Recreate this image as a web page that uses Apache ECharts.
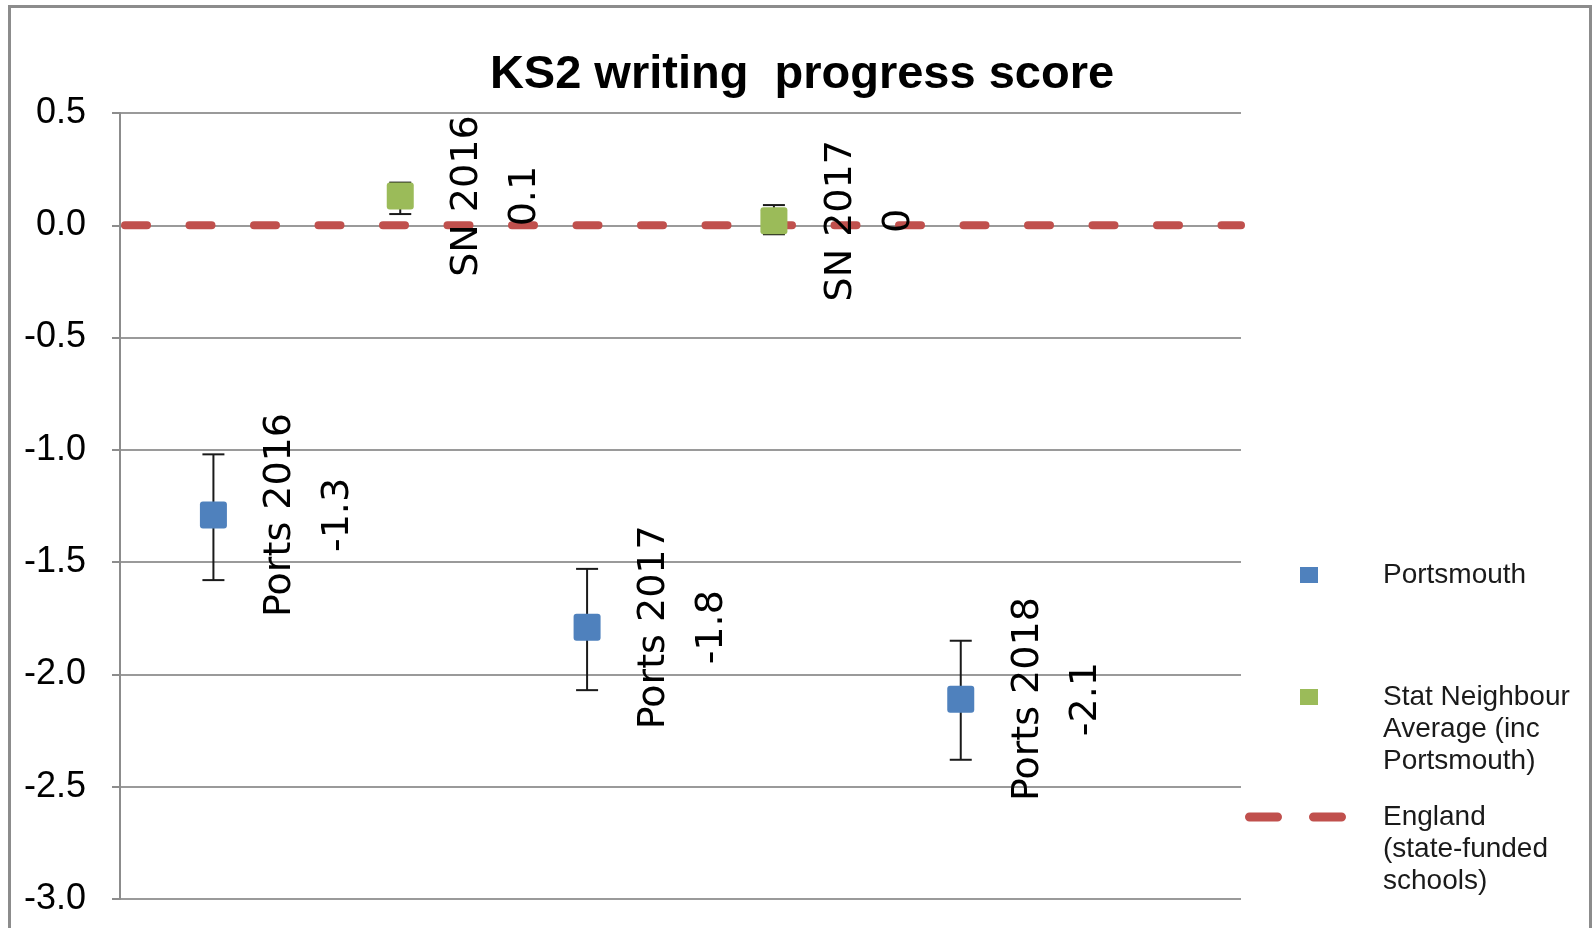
<!DOCTYPE html>
<html>
<head>
<meta charset="utf-8">
<script src="https://cdn.jsdelivr.net/npm/echarts@6/dist/echarts.min.js"></script>
<style>
  html, body { margin: 0; padding: 0; background: #ffffff; }
  #chart { width: 1593px; height: 928px; }
</style>
</head>
<body>
<div id="chart"></div>
<script>
// ---- Data ----
const chartTitle = 'KS2 writing  progress score';
const seriesNames = ['Portsmouth', 'Stat Neighbour Average (inc Portsmouth)', 'England (state-funded schools)'];
const legendTexts = ['Portsmouth', 'Stat Neighbour\nAverage (inc\nPortsmouth)', 'England\n(state-funded\nschools)'];

// Portsmouth points (x = position slot along the horizontal axis)
const portsLabels = ['Ports 2016', 'Ports 2017', 'Ports 2018'];
const portsSlots = [1, 3, 5];
const portsValues = [-1.29, -1.79, -2.11];
const portsLow = [-1.58, -2.07, -2.38];
const portsHigh = [-1.02, -1.53, -1.85];

// Stat neighbour points
const snLabels = ['SN 2016', 'SN 2017'];
const snSlots = [2, 4];
const snValues = [0.13, 0.02];
const snLow = [0.05, -0.04];
const snHigh = [0.19, 0.09];

// England reference line
const englandValue = 0;

// Axes
const xMin = 0.5, xMax = 6.5;
const yMin = -3.0, yMax = 0.5, yInterval = 0.5;

// ---- Build options ----
const colors = { ports: '#4F81BD', sn: '#9BBB59', england: '#C0504D' };

function pointData(slots, values, labels) {
  return slots.map((s, i) => ({ value: [s, values[i]], name: labels[i] }));
}
function errData(slots, low, high) {
  return slots.map((s, i) => [s, low[i], high[i]]);
}

const squarePath = 'path://M3,0H24Q27,0,27,3V24Q27,27,24,27H3Q0,27,0,24V3Q0,0,3,0Z';
const dashIcon = 'path://M4.5,0H32.5A4.5,4.5,0,0,1,32.5,9H4.5A4.5,4.5,0,0,1,4.5,0Z M68.5,0H96.5A4.5,4.5,0,0,1,96.5,9H68.5A4.5,4.5,0,0,1,68.5,0Z';

const pointLabel = {
  show: true,
  position: 'inside',
  rotate: 90,
  align: 'center',
  verticalAlign: 'middle',
  offset: [0, 96],
  fontFamily: 'DejaVu Sans',
  fontSize: 38,
  lineHeight: 58,
  color: '#000000',
  formatter: p => p.name + '\n' + String(Math.round(p.value[1] * 10) / 10)
};

function errorRender(params, api) {
  const x = api.value(0);
  const lo = api.coord([x, api.value(1)]);
  const hi = api.coord([x, api.value(2)]);
  const hw = 11;
  const st = { stroke: '#1a1a1a', lineWidth: 2 };
  return {
    type: 'group',
    children: [
      { type: 'line', shape: { x1: lo[0], y1: lo[1], x2: hi[0], y2: hi[1] }, style: st },
      { type: 'line', shape: { x1: lo[0] - hw, y1: lo[1], x2: lo[0] + hw, y2: lo[1] }, style: st },
      { type: 'line', shape: { x1: hi[0] - hw, y1: hi[1], x2: hi[0] + hw, y2: hi[1] }, style: st }
    ]
  };
}

const legendText = (pad) => ({
  fontFamily: 'Liberation Sans',
  fontSize: 28,
  lineHeight: 32,
  color: '#1a1a1a',
  padding: pad
});

const option = {
  animation: false,
  backgroundColor: '#ffffff',
  title: {
    text: chartTitle,
    left: 797,
    top: 47,
    textAlign: 'center',
    textStyle: { fontFamily: 'Liberation Sans', fontWeight: 'bold', fontSize: 47, color: '#000000' }
  },
  graphic: [{
    type: 'rect',
    shape: { x: 9.5, y: 6.5, width: 1581, height: 1000 },
    style: { fill: 'none', stroke: '#8c8c8c', lineWidth: 3 },
    silent: true
  }],
  legend: [
    {
      data: [{ name: seriesNames[0], icon: 'rect' }],
      left: 1300, top: 559, padding: 0,
      itemWidth: 18, itemHeight: 16, selectedMode: false,
      formatter: () => legendTexts[0],
      textStyle: legendText([0, 0, 0, 60])
    },
    {
      data: [{ name: seriesNames[1], icon: 'rect' }],
      left: 1300, top: 617, padding: 0,
      itemWidth: 18, itemHeight: 16, selectedMode: false,
      formatter: () => '\n\n' + legendTexts[1],
      textStyle: legendText([0, 0, 0, 60])
    },
    {
      data: [{ name: seriesNames[2], icon: dashIcon, itemStyle: { color: colors.england } }],
      left: 1245, top: 737, padding: 0,
      itemWidth: 101, itemHeight: 9, selectedMode: false,
      formatter: () => '\n\n' + legendTexts[2],
      textStyle: legendText([0, 0, 0, 32])
    }
  ],
  grid: { left: 120, top: 113, right: 352, bottom: 29, containLabel: false },
  xAxis: {
    type: 'value', min: xMin, max: xMax,
    show: false
  },
  yAxis: {
    type: 'value', min: yMin, max: yMax, interval: yInterval,
    axisLine: { show: true, lineStyle: { color: '#8c8c8c', width: 2 } },
    axisTick: { show: true, length: 8, lineStyle: { color: '#8c8c8c', width: 2 } },
    splitLine: { show: true, lineStyle: { color: '#9a9a9a', width: 2 } },
    axisLabel: {
      margin: 34,
      fontFamily: 'Liberation Sans', fontSize: 36, color: '#000000',
      formatter: v => v.toFixed(1)
    }
  },
  series: [
    {
      name: seriesNames[2],
      type: 'line',
      data: [[xMin, englandValue], [xMax, englandValue]],
      symbol: 'none',
      lineStyle: { color: colors.england, width: 8, type: [22, 42.5], dashOffset: -5, cap: 'round' },
      itemStyle: { color: colors.england },
      z: 2, silent: true
    },
    {
      type: 'custom',
      renderItem: errorRender,
      data: errData(portsSlots, portsLow, portsHigh),
      encode: { x: 0, y: [1, 2] },
      z: 3, silent: true
    },
    {
      type: 'custom',
      renderItem: errorRender,
      data: errData(snSlots, snLow, snHigh),
      encode: { x: 0, y: [1, 2] },
      z: 3, silent: true
    },
    {
      name: seriesNames[0],
      type: 'scatter',
      data: pointData(portsSlots, portsValues, portsLabels),
      symbol: squarePath,
      symbolSize: 27,
      itemStyle: { color: colors.ports, opacity: 1 },
      label: pointLabel,
      z: 4
    },
    {
      name: seriesNames[1],
      type: 'scatter',
      data: pointData(snSlots, snValues, snLabels),
      symbol: squarePath,
      symbolSize: 27,
      itemStyle: { color: colors.sn, opacity: 1 },
      label: pointLabel,
      z: 4
    }
  ]
};

const chart = echarts.init(document.getElementById('chart'), null, { renderer: 'canvas' });
chart.setOption(option);
</script>
</body>
</html>
